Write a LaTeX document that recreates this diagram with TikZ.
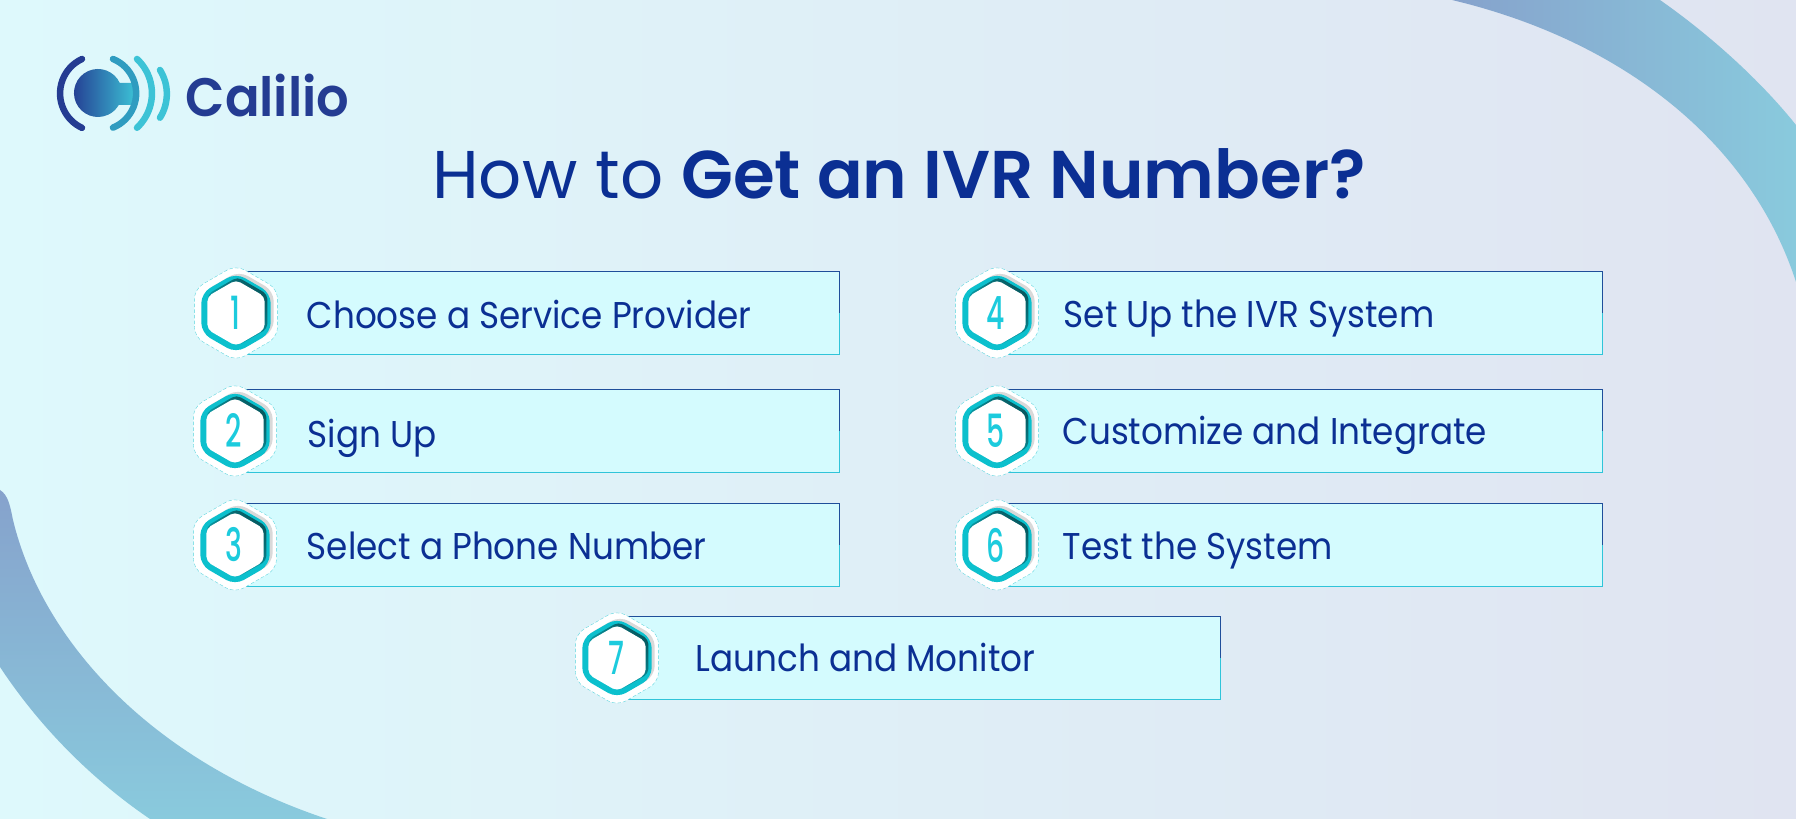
\documentclass[tikz,border=0pt]{standalone}
\usepackage{fontspec}
\usepackage{graphicx}
\setmainfont{Poppins}
\newfontfamily\stepfont[FakeStretch=0.918]{Poppins}
\newfontfamily\titlefont{Poppins}
\newfontfamily\titlebold{Poppins SemiBold}
\newfontfamily\logofont[FakeStretch=0.945]{Poppins SemiBold}
\newfontfamily\digitfont{Poppins Medium}
\usetikzlibrary{shapes.geometric}
\definecolor{inkblue}{HTML}{0B2F93}
\definecolor{logoblue}{HTML}{243C92}
\definecolor{logomid}{HTML}{2F9CC0}
\definecolor{logoteal}{HTML}{3CC3D6}
\definecolor{bgleft}{HTML}{DEF9FC}
\definecolor{bgright}{HTML}{E0E4F1}
\definecolor{swooshblue}{HTML}{86A2CC}
\definecolor{swooshteal}{HTML}{89CADD}
\definecolor{boxfill}{HTML}{D4FBFE}
\definecolor{hexteal}{HTML}{0CC0CD}
\definecolor{hexdark}{HTML}{07575E}
\definecolor{numteal}{HTML}{1CCBDD}
\definecolor{topline}{HTML}{1F4E9A}
\definecolor{botline}{HTML}{2FC4D9}
\begin{document}
\begin{tikzpicture}
[x=0.01cm,y=-0.01cm,
  hexdecorate/.style={shape=regular polygon,regular polygon sides=6,
    shape border rotate=30,inner sep=0pt,rounded corners=1mm},
  boxdecorate/.style={anchor=west,fill=boxfill,inner sep=0pt,
    minimum width=5.93cm,minimum height=0.82cm},
  textdecorate/.style={anchor=base west,inner sep=0pt,text=inkblue,
    font=\stepfont\fontsize{10.6pt}{12pt}\selectfont},
  numdecorate/.style={inner sep=0pt,text=numteal,
    font=\digitfont\fontsize{13pt}{15pt}\selectfont},
  logoarc/.style={line width=0.065cm,line cap=round}]
\useasboundingbox (0,0) rectangle (1796,819);
%% background and swooshes
\shade[left color=bgleft,right color=bgright] (0,0) rectangle (1796,819);
\shade[left color=swooshblue,right color=swooshteal]
  (1452,0) .. controls (1620,40) and (1750,140) .. (1796,282)
  -- (1796,125) .. controls (1760,80) and (1710,35) .. (1660,0) -- cycle;
\shade[top color=swooshblue,bottom color=swooshteal]
  (0,490) .. controls (8,495) and (10,505) .. (13,520)
  .. controls (42,640) and (150,760) .. (327,819)
  -- (150,819) .. controls (100,785) and (45,735) .. (0,667) -- cycle;
%% logo
\shade[left color=logoblue,right color=logoteal]
  (119.8,83) arc[start angle=-24.6,end angle=-330,radius=24] -- (136,105) -- (136,83) -- cycle;
\draw[logoarc,logoblue] (82,59) arc[start angle=-115,end angle=-245,radius=38];
\draw[logoarc,logomid] (113,59) arc[start angle=-68,end angle=68,radius=37];
\draw[logoarc,logoteal] (137,59) arc[start angle=-47,end angle=47,radius=47];
\draw[logoarc,logoteal] (160,70) arc[start angle=-32,end angle=32,radius=45];
\node (logotext) at (185,117) [anchor=base west,inner sep=0pt,text=logoblue,
  font=\logofont\fontsize{15.4pt}{17pt}\selectfont] {Calilio};
%% title
\node (title) at (899,199) [anchor=base,inner sep=0pt,text=inkblue,
  font=\titlefont\fontsize{19.2pt}{23pt}\selectfont] {How to {\titlebold Get an IVR Number?}};
%% boxes, badges and labels
\foreach \stepnum/\x/\y/\hx/\tx/\ty/\steplabel in {
  1/245/313/236/306/329/Choose a Service Provider,
  2/245/431/235/307/448/Sign Up,
  3/245/545/235/306/560/Select a Phone Number,
  4/1008/313/997/1063/328/Set Up the IVR System,
  5/1008/431/997/1062/445/Customize and Integrate,
  6/1008/545/997/1062/560/Test the System,
  7/626/658/617/695/672/Launch and Monitor} {
  \node (box\stepnum) at (\x,\y) [boxdecorate] {};
  \draw[topline,line width=0.4pt] (box\stepnum.north west) -- (box\stepnum.north east) -- (box\stepnum.east);
  \draw[botline,line width=0.4pt] (box\stepnum.east) -- (box\stepnum.south east) -- (box\stepnum.south west);
  \node (halo\stepnum) at (\hx,\y) [hexdecorate,minimum size=0.96cm,fill=white,draw=hexteal!70,dash pattern=on 1pt off 0.6pt,line width=0.1pt] {};
  \node (shadow\stepnum) at (\hx+3,\y-2) [hexdecorate,minimum size=0.8cm,fill=gray!30] {};
  \node (rim\stepnum) at (\hx,\y) [hexdecorate,minimum size=0.8cm,fill=hexteal] {};
  \node (dark\stepnum) at (\hx+1.5,\y-1.5) [hexdecorate,minimum size=0.69cm,rounded corners=0.5mm,
    top color=hexdark,bottom color=hexteal,shading angle=-45] {};
  \node (core\stepnum) at (\hx,\y) [hexdecorate,minimum size=0.66cm,fill=white,rounded corners=0.5mm] {};
  \node (num\stepnum) at (\hx-1,\y) [numdecorate] {\scalebox{0.62}[1]{\stepnum}};
  \node (label\stepnum) at (\tx,\ty) [textdecorate] {\steplabel};
}
\end{tikzpicture}
\end{document}
